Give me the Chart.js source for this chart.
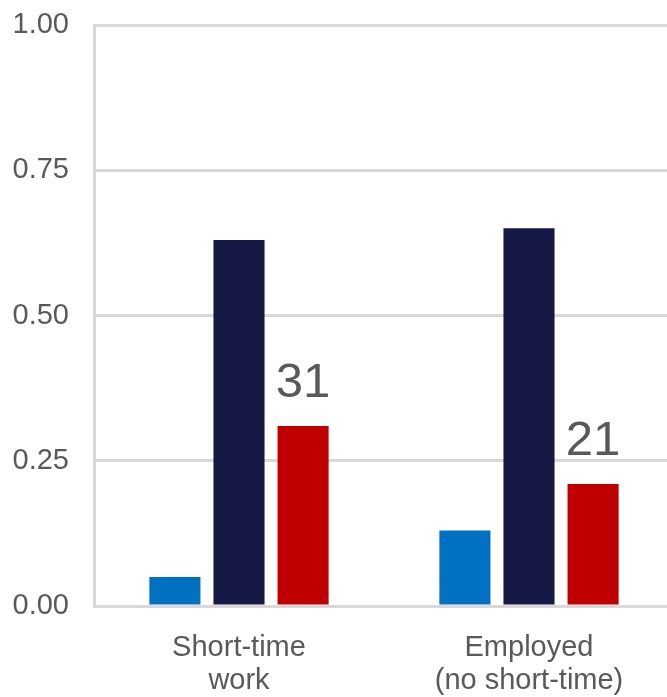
<!DOCTYPE html>
<html>
<head>
<meta charset="utf-8">
<script src="https://cdn.jsdelivr.net/npm/chart.js@4"></script>
<style>
  html, body { margin: 0; padding: 0; background: #fff; overflow: hidden; }
  #wrap { width: 667px; height: 697px; overflow: hidden; }
  #box { width: 674px; height: 697px; }
</style>
</head>
<body>
<div id="wrap"><div id="box"><canvas id="chart"></canvas></div></div>
<script>
// =====================================
// DATA
// =====================================
const categories = [["Short-time", "work"], ["Employed", "(no short-time)"]];
const seriesBlue = [0.05, 0.13];
const seriesNavy = [0.63, 0.65];
const seriesRed = [0.31, 0.21];
const yTicks = [0, 0.25, 0.5, 0.75, 1];

const TEXT = "#595959";
const GRID = "#d9d9d9";
const FONT = "'Liberation Sans', Arial, sans-serif";

// labels above the red bars (value shown as percent)
const redLabels = {
  id: "redLabels",
  afterDatasetsDraw(chart) {
    const ctx = chart.ctx;
    const meta = chart.getDatasetMeta(2);
    ctx.save();
    ctx.font = "49px " + FONT;
    ctx.fillStyle = TEXT;
    ctx.textAlign = "center";
    ctx.textBaseline = "alphabetic";
    meta.data.forEach((bar, i) => {
      ctx.fillText(Math.round(seriesRed[i] * 100), bar.x, bar.y - 29);
    });
    ctx.restore();
  }
};

const bar = (label, data, color) => ({
  label, data,
  backgroundColor: color,
  borderWidth: 0,
  categoryPercentage: 0.663,
  barPercentage: 0.797
});

new Chart(document.getElementById("chart"), {
  type: "bar",
  data: {
    labels: categories,
    datasets: [
      bar("Series 1", seriesBlue, "#0070c0"),
      bar("Series 2", seriesNavy, "#161845"),
      bar("Series 3", seriesRed, "#c00000")
    ]
  },
  options: {
    responsive: true,
    maintainAspectRatio: false,
    animation: false,
    layout: { padding: { top: 25, bottom: 0, left: 0, right: 0 } },
    plugins: {
      legend: { display: false },
      tooltip: { enabled: false }
    },
    scales: {
      x: {
        grid: { display: false, drawTicks: false },
        border: { display: false },
        afterFit: (axis) => {
          axis.height = 91;
          axis.paddingLeft = 0;
          axis.paddingRight = 0;
        },
        ticks: {
          color: TEXT,
          font: { family: FONT, size: 29, lineHeight: 1.14 },
          padding: 25,
          maxRotation: 0
        }
      },
      y: {
        min: 0,
        max: 1,
        afterBuildTicks: (axis) => { axis.ticks = yTicks.map(v => ({ value: v })); },
        afterFit: (axis) => {
          axis.width = 94;
          axis.paddingTop = 0;
          axis.paddingBottom = 0;
        },
        grid: { color: GRID, lineWidth: 3, drawTicks: false },
        border: { display: true, color: GRID, width: 3 },
        ticks: {
          color: TEXT,
          font: { family: FONT, size: 29 },
          padding: 25,
          callback: (v) => v.toFixed(2)
        }
      }
    }
  },
  plugins: [redLabels]
});
</script>
</body>
</html>
